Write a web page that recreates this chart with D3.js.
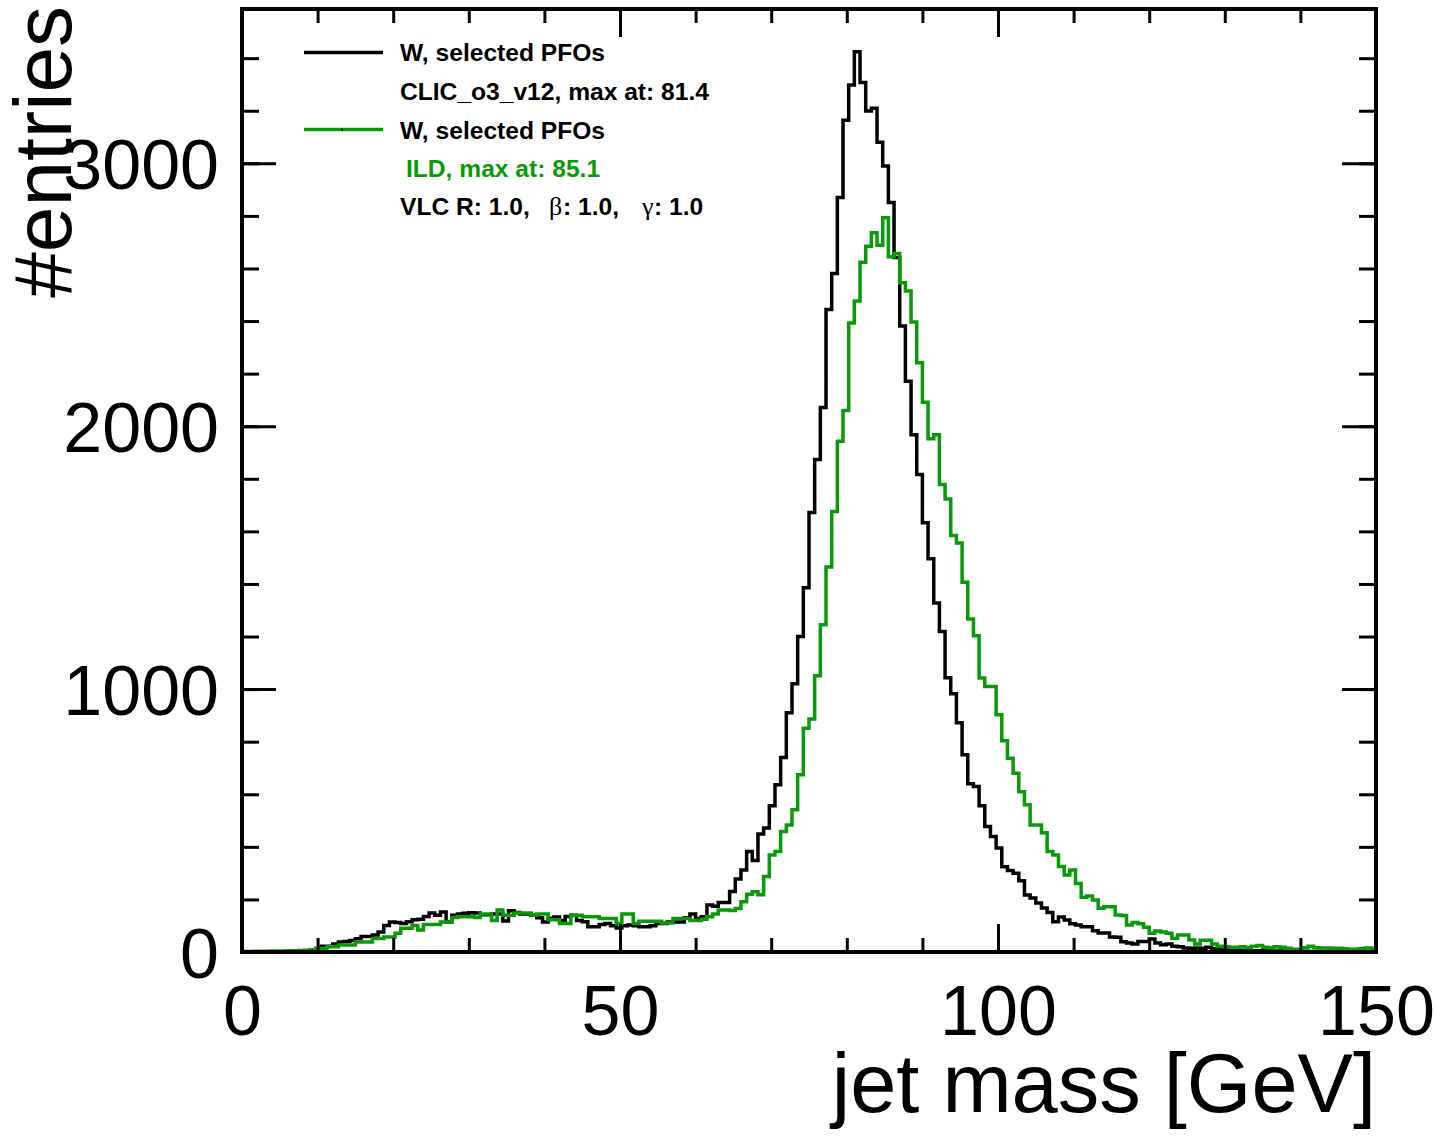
<!DOCTYPE html>
<html>
<head>
<meta charset="utf-8">
<script src="https://cdn.jsdelivr.net/npm/d3@7"></script>
<style>
  body { margin: 0; background: #fff; }
  svg { display: block; font-family: "Liberation Sans", Arial, Helvetica, sans-serif; }
</style>
</head>
<body>
<div id="chart"></div>
<script>
// histogram range: 200 bins of 0.75 GeV between 0 and 150 GeV
const massRange = [0, 150];
const xMajorTicks = [0, 50, 100, 150];
const yMajorTicks = [0, 1000, 2000, 3000];

// CLIC_o3_v12, black
const clicCounts = [
  0, 0, 0, 0, 0, 1, 1, 1, 2, 2, 3, 5, 8, 13, 22, 22, 30, 38, 40, 44,
  50, 59, 59, 65, 76, 101, 114, 112, 108, 115, 123, 125, 135, 148, 140, 152, 114, 140, 145, 147,
  149, 148, 142, 142, 145, 145, 118, 157, 150, 145, 145, 140, 130, 114, 128, 133, 120, 135, 140, 120,
  115, 96, 96, 105, 108, 100, 91, 100, 103, 100, 96, 96, 100, 108, 108, 114, 114, 114, 130, 145,
  127, 134, 179, 174, 188, 188, 230, 278, 312, 382, 348, 449, 472, 556, 636, 740, 910, 1020, 1200, 1386,
  1672, 1873, 2071, 2444, 2581, 2870, 3164, 3298, 3424, 3307, 3199, 3209, 3080, 2990, 2851, 2642, 2381, 2171, 1968, 1816,
  1633, 1496, 1328, 1219, 1043, 982, 872, 750, 640, 630, 556, 477, 439, 396, 324, 310, 300, 271, 217, 205,
  186, 167, 150, 115, 133, 122, 107, 103, 96, 96, 81, 72, 72, 57, 56, 39, 34, 30, 40, 40,
  49, 34, 28, 30, 22, 20, 15, 14, 15, 14, 18, 12, 10, 9, 8, 7, 6, 6, 5, 5,
  5, 4, 4, 4, 3, 3, 3, 3, 2, 2, 2, 2, 2, 1, 1, 1, 1, 1, 1, 1
];

// ILD, green
const ildCounts = [
  2, 2, 3, 3, 3, 4, 4, 4, 5, 5, 6, 7, 9, 13, 13, 20, 20, 27, 27, 27,
  38, 38, 38, 51, 51, 57, 57, 71, 90, 90, 101, 84, 105, 105, 105, 114, 114, 131, 134, 134,
  134, 131, 145, 145, 120, 160, 140, 140, 148, 148, 148, 140, 145, 145, 123, 123, 108, 108, 140, 140,
  134, 134, 134, 127, 127, 127, 108, 145, 145, 108, 117, 117, 117, 117, 110, 110, 127, 127, 127, 120,
  120, 125, 134, 145, 160, 160, 158, 165, 191, 220, 229, 218, 287, 369, 382, 458, 483, 541, 674, 851,
  886, 1051, 1245, 1464, 1676, 1943, 2060, 2393, 2476, 2624, 2685, 2736, 2688, 2793, 2645, 2657, 2546, 2514, 2396, 2241,
  2091, 1952, 1968, 1778, 1723, 1584, 1556, 1406, 1267, 1203, 1042, 1010, 1010, 902, 804, 737, 680, 610, 560, 483,
  483, 454, 382, 369, 325, 293, 312, 261, 208, 213, 198, 166, 172, 172, 141, 139, 103, 112, 107, 94,
  71, 80, 76, 71, 52, 65, 65, 46, 30, 45, 45, 30, 22, 20, 18, 18, 20, 16, 22, 25,
  18, 16, 20, 18, 14, 10, 10, 16, 22, 16, 15, 15, 14, 14, 12, 10, 10, 12, 15, 14
];

const black = "#000";
const green = "#089a08";

const series = [
  { name: "CLIC_o3_v12", counts: clicCounts, color: black },
  { name: "ILD", counts: ildCounts, color: green }
];

const W = 1436, H = 1138;
const frame = { left: 242, right: 1376, top: 9, bottom: 952 };
const yMax = 3587;

const svg = d3.select("#chart")
    .append("svg")
    .attr("width", W)
    .attr("height", H);

const x = d3.scaleLinear().domain(massRange).range([frame.left, frame.right]);
const y = d3.scaleLinear().domain([0, yMax]).range([frame.bottom, frame.top]);

svg.append("clipPath").attr("id", "frameClip")
  .append("rect")
    .attr("x", frame.left).attr("y", frame.top)
    .attr("width", frame.right - frame.left)
    .attr("height", frame.bottom - frame.top);

// step histograms, ROOT style (no drop to zero at the ends)
const step = d3.line()
    .x(d => x(d[0]))
    .y(d => y(d[1]))
    .curve(d3.curveStepAfter);

series.forEach(s => {
  const n = s.counts.length;
  const edge = i => massRange[0] + (massRange[1] - massRange[0]) * i / n;
  const pts = s.counts.map((c, i) => [edge(i), c]);
  pts.push([edge(n), s.counts[n - 1]]);
  svg.append("path")
      .attr("clip-path", "url(#frameClip)")
      .attr("d", step(pts))
      .attr("fill", "none")
      .attr("stroke", s.color)
      .attr("stroke-width", 3.5);
});

// axes, ticks pointing inwards on all four sides
const xMinor = d3.range(0, 151, 10);
const yMinor = d3.range(0, yMax, 200);

function styleAxis(g) {
  g.select(".domain").remove();
  g.selectAll(".tick line").attr("stroke", black).attr("stroke-width", 3);
  g.selectAll(".tick text").attr("fill", black).attr("font-size", 70);
}

svg.append("g")
    .attr("transform", `translate(0,${frame.bottom})`)
    .call(d3.axisBottom(x).tickValues(xMinor).tickSize(-14).tickFormat(""))
    .call(styleAxis);
svg.append("g")
    .attr("transform", `translate(0,${frame.bottom})`)
    .call(d3.axisBottom(x).tickValues(xMajorTicks).tickSize(-28).tickPadding(33).tickFormat(d3.format("d")))
    .call(styleAxis);
svg.append("g")
    .attr("transform", `translate(0,${frame.top})`)
    .call(d3.axisTop(x).tickValues(xMinor).tickSize(-14).tickFormat(""))
    .call(styleAxis);
svg.append("g")
    .attr("transform", `translate(0,${frame.top})`)
    .call(d3.axisTop(x).tickValues(xMajorTicks).tickSize(-28).tickFormat(""))
    .call(styleAxis);

svg.append("g")
    .attr("transform", `translate(${frame.left},0)`)
    .call(d3.axisLeft(y).tickValues(yMinor).tickSize(-17).tickFormat(""))
    .call(styleAxis);
svg.append("g")
    .attr("transform", `translate(${frame.left},0)`)
    .call(d3.axisLeft(y).tickValues(yMajorTicks).tickSize(-34).tickPadding(23).tickFormat(d3.format("d")))
    .call(styleAxis)
    .call(g => g.selectAll(".tick text").attr("dy", "0.36em"));
svg.append("g")
    .attr("transform", `translate(${frame.right},0)`)
    .call(d3.axisRight(y).tickValues(yMinor).tickSize(-17).tickFormat(""))
    .call(styleAxis);
svg.append("g")
    .attr("transform", `translate(${frame.right},0)`)
    .call(d3.axisRight(y).tickValues(yMajorTicks).tickSize(-34).tickFormat(""))
    .call(styleAxis);

// frame
svg.append("rect")
    .attr("x", frame.left).attr("y", frame.top)
    .attr("width", frame.right - frame.left)
    .attr("height", frame.bottom - frame.top)
    .attr("fill", "none")
    .attr("stroke", black)
    .attr("stroke-width", 4);

// axis titles
svg.append("text")
    .attr("x", frame.right).attr("y", 1112)
    .attr("text-anchor", "end")
    .attr("font-size", 83)
    .text("jet mass [GeV]");

svg.append("text")
    .attr("transform", "translate(71,6) rotate(-90)")
    .attr("text-anchor", "end")
    .attr("font-size", 82)
    .text("#entries");

// legend
const leg = svg.append("g")
    .attr("font-weight", "bold")
    .attr("font-size", 24.6);

leg.append("line").attr("x1", 304).attr("x2", 383).attr("y1", 52.5).attr("y2", 52.5)
    .attr("stroke", black).attr("stroke-width", 3.5);
leg.append("line").attr("x1", 304).attr("x2", 383).attr("y1", 129.5).attr("y2", 129.5)
    .attr("stroke", green).attr("stroke-width", 3.5);
leg.append("rect").attr("x", 341).attr("y", 128.5).attr("width", 2).attr("height", 2).attr("fill", black);

leg.append("text").attr("x", 400).attr("y", 60.5).text("W, selected PFOs");
leg.append("text").attr("x", 400).attr("y", 99.5).text("CLIC_o3_v12, max at: 81.4");
leg.append("text").attr("x", 400).attr("y", 138.5).text("W, selected PFOs");
leg.append("text").attr("x", 406).attr("y", 177).attr("fill", green).text("ILD, max at: 85.1");

const vlc = leg.append("text").attr("y", 215);
vlc.append("tspan").attr("x", 400).text("VLC R: 1.0,");
vlc.append("tspan").attr("x", 549).attr("font-weight", "normal")
    .attr("font-family", "'Liberation Serif', 'DejaVu Serif', serif").attr("font-size", 26).text("β");
vlc.append("tspan").attr("x", 563).text(": 1.0,");
vlc.append("tspan").attr("x", 642).attr("font-weight", "normal")
    .attr("font-family", "'Liberation Serif', 'DejaVu Serif', serif").attr("font-size", 26).text("γ");
vlc.append("tspan").attr("x", 654).text(": 1.0");
</script>
</body>
</html>
